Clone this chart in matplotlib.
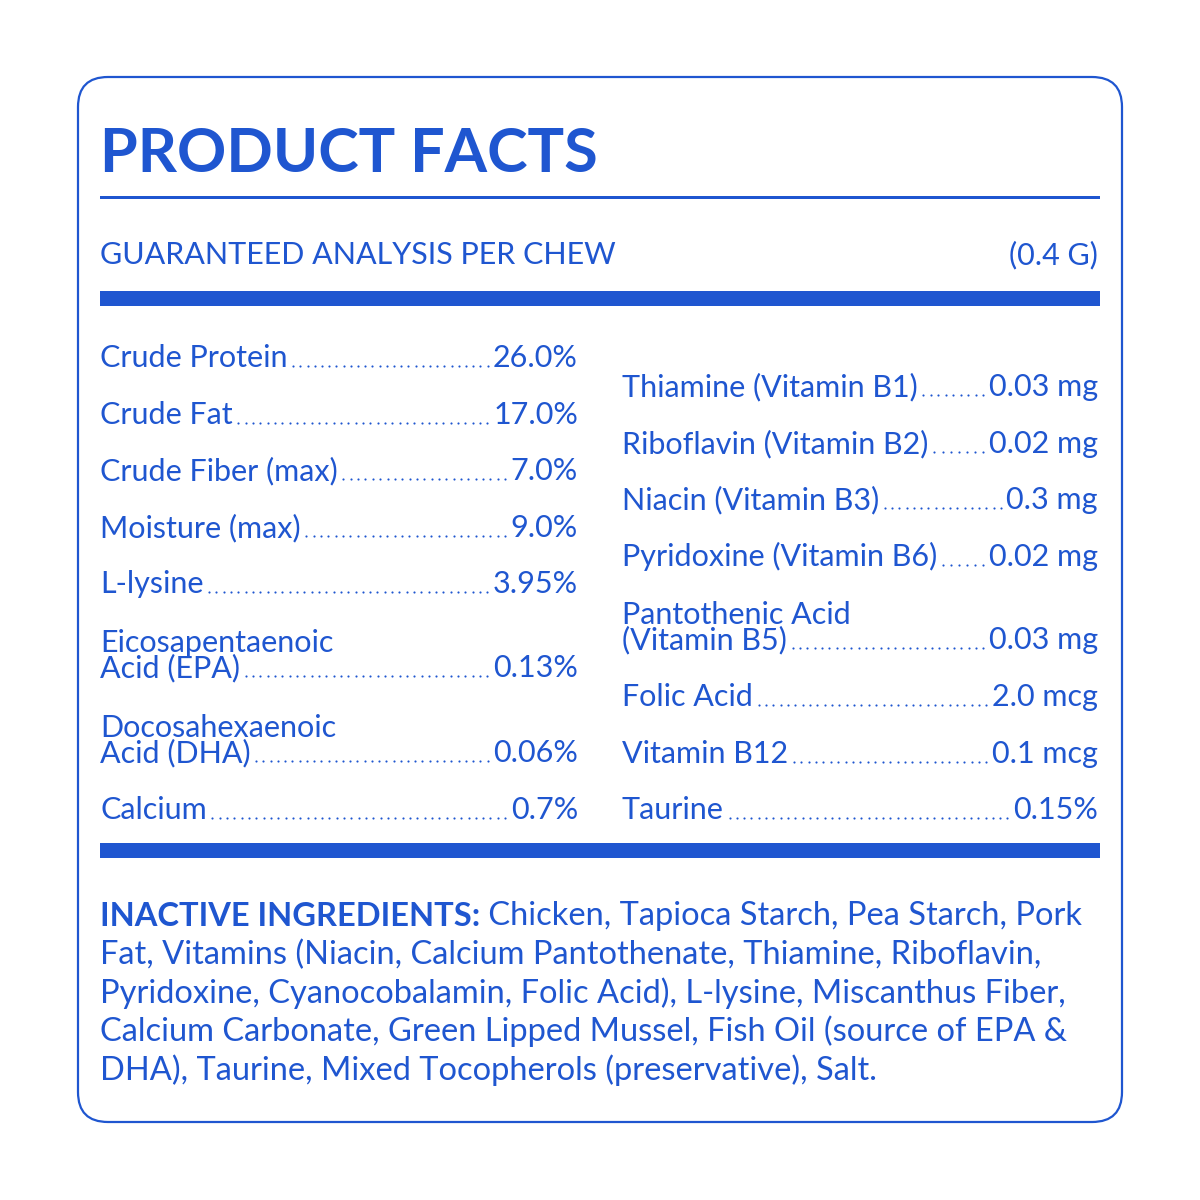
import matplotlib
matplotlib.use("Agg")
import matplotlib.pyplot as plt
from matplotlib.patches import FancyBboxPatch, Rectangle

BLUE = "#1f56d0"
FONT = "Lato"
W = H = 1200

title = "PRODUCT FACTS"
subtitle = "GUARANTEED ANALYSIS PER CHEW"
serving = "(0.4 G)"
left_labels = ["Crude Protein", "Crude Fat", "Crude Fiber (max)", "Moisture (max)", "L-lysine",
               "Eicosapentaenoic\nAcid (EPA)", "Docosahexaenoic\nAcid (DHA)", "Calcium"]
left_values = ["26.0%", "17.0%", "7.0%", "9.0%", "3.95%", "0.13%", "0.06%", "0.7%"]
left_y = [358, 415, 471, 528, 584, 668, 753, 810]
right_labels = ["Thiamine (Vitamin B1)", "Riboflavin (Vitamin B2)", "Niacin (Vitamin B3)",
                "Pyridoxine (Vitamin B6)", "Pantothenic Acid\n(Vitamin B5)", "Folic Acid",
                "Vitamin B12", "Taurine"]
right_values = ["0.03 mg", "0.02 mg", "0.3 mg", "0.02 mg", "0.03 mg", "2.0 mcg", "0.1 mcg", "0.15%"]
right_y = [387, 444, 500, 557, 640, 697, 754, 810]
inactive_head = "INACTIVE INGREDIENTS:"
inactive_lines = [" Chicken, Tapioca Starch, Pea Starch, Pork",
                  "Fat, Vitamins (Niacin, Calcium Pantothenate, Thiamine, Riboflavin,",
                  "Pyridoxine, Cyanocobalamin, Folic Acid), L-lysine, Miscanthus Fiber,",
                  "Calcium Carbonate, Green Lipped Mussel, Fish Oil (source of EPA &",
                  "DHA), Taurine, Mixed Tocopherols (preservative), Salt."]
inactive_y = [916, 955, 993, 1031, 1070]

fig = plt.figure(figsize=(12, 12), dpi=100)
ax = fig.add_axes([0, 0, 1, 1])
ax.set_xlim(0, W); ax.set_ylim(H, 0); ax.axis("off")
fig.patch.set_facecolor("white")

ax.add_patch(FancyBboxPatch((78, 77), 1044, 1045, boxstyle="round,pad=0,rounding_size=30",
                            fc="white", ec=BLUE, lw=1.6))
ax.text(100, 172, title, fontsize=44, fontweight="bold", color=BLUE, family=FONT, va="baseline")
ax.add_patch(Rectangle((100, 196), 1000, 3, color=BLUE, lw=0))
ax.text(100, 255, subtitle, fontsize=22, color=BLUE, family=FONT, va="center")
ax.text(1098, 255, serving, fontsize=22, color=BLUE, family=FONT, va="center", ha="right")
ax.add_patch(Rectangle((100, 291), 1000, 15, color=BLUE, lw=0))
ax.add_patch(Rectangle((100, 843), 1000, 15, color=BLUE, lw=0))

fs = 22
rows = []
for labels, values, ys, x0, x1 in [(left_labels, left_values, left_y, 100, 578),
                                   (right_labels, right_values, right_y, 622, 1098)]:
    for lab, val, y in zip(labels, values, ys):
        t1 = ax.text(x0, y + 9, lab, fontsize=fs, color=BLUE, family=FONT, va="baseline",
                     linespacing=0.85)
        t2 = ax.text(x1, y + 9, val, fontsize=fs, color=BLUE, family=FONT, va="baseline", ha="right")
        rows.append((t1, t2, y))

fig.canvas.draw()
r = fig.canvas.get_renderer()
inv = ax.transData.inverted()
for t1, t2, y in rows:
    lab = t1.get_text().split("\n")[-1]
    tmp = ax.text(0, 0, lab, fontsize=fs, family=FONT)
    w = tmp.get_window_extent(r).width
    tmp.remove()
    xs = t1.get_position()[0] + w + 2
    xe = t2.get_window_extent(r).x0
    xe = inv.transform((xe, 0))[0] - 2
    n = int((xe - xs) / 7.2)
    if n > 0:
        step = (xe - xs) / n
        ax.scatter([xs + i * step + step / 2 for i in range(n)], [y + 8] * n, s=2.4, color=BLUE, lw=0)

ifs = 23.5
th = ax.text(100, inactive_y[0], inactive_head, fontsize=ifs, fontweight="bold", color=BLUE,
             family=FONT, va="center")
fig.canvas.draw()
xh = inv.transform((th.get_window_extent(r).x1, 0))[0]
for i, (line, y) in enumerate(zip(inactive_lines, inactive_y)):
    ax.text(xh if i == 0 else 100, y, line, fontsize=ifs, color=BLUE, family=FONT, va="center")

fig.savefig("out.png", dpi=100, facecolor="white")
